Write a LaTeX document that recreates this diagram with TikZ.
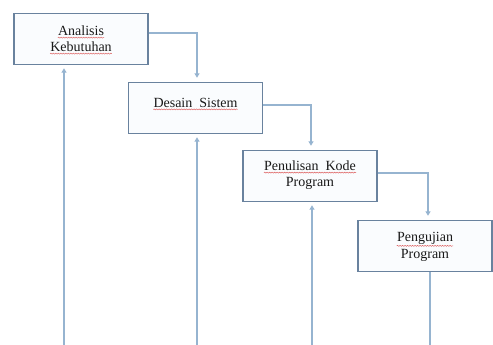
\documentclass[tikz,border=0pt]{standalone}
\usepackage{fontspec}
\setmainfont{Liberation Serif}
\usetikzlibrary{arrows.meta,decorations.pathmorphing}
\definecolor{boxline}{RGB}{105,130,158}
\definecolor{boxfill}{RGB}{250,252,254}
\definecolor{conn}{RGB}{150,180,208}
\definecolor{squig}{RGB}{220,90,90}
\begin{document}
\begin{tikzpicture}[x=1pt,y=-1pt,
  stagebox/.style={draw=boxline,fill=boxfill,line width=1.4pt,minimum width=134pt,minimum height=51pt,inner sep=0pt},
  lbl/.style={inner sep=0pt,text=black!90,font=\fontsize{14}{16}\selectfont},
  link/.style={draw=conn,line width=1.2pt,-{Triangle[width=5pt,length=4.5pt]},shorten >=4pt},
  plain/.style={draw=conn,line width=1.2pt},
  spell/.style={draw=squig,line width=0.45pt,decorate,decoration={snake,amplitude=0.5pt,segment length=2.5pt}}]
\useasboundingbox[fill=white] (0,0) rectangle (493,345);
% boxes
\node[stagebox] (b1) at (81,39) {};
\node[stagebox] (b2) at (195.5,108) {};
\node[stagebox] (b3) at (310,176) {};
\node[stagebox] (b4) at (425,246) {};
% texts
\node[lbl] (t1a) at (81,31) {Analisis};
\node[lbl] (t1b) at (81,47) {Kebutuhan};
\node[lbl] (t2) at (195.5,103) {Desain~~Sistem};
\node[lbl] (t3a) at (310,166) {Penulisan~~Kode};
\node[lbl] (t3b) at (310,183) {Program};
\node[lbl] (t4a) at (425,238) {Pengujian};
\node[lbl] (t4b) at (425,255) {Program};
% spell-check squiggles
\draw[spell] ([yshift=-1.5pt]t1a.south west) -- ([yshift=-1.5pt]t1a.south east);
\draw[spell] ([yshift=-1.5pt]t1b.south west) -- ([yshift=-1.5pt]t1b.south east);
\draw[spell] ([yshift=-1.5pt]t2.south west) -- ([yshift=-1.5pt]t2.south east);
\draw[spell] ([yshift=-1.5pt]t3a.south west) -- ([yshift=-1.5pt]t3a.south east);
\draw[spell] ([yshift=-1.5pt]t4a.south west) -- ([yshift=-1.5pt]t4a.south east);
% coordinates
\coordinate (c1) at (197,33);
\coordinate (c2) at (311,105);
\coordinate (c3) at (428,173);
\coordinate (f1) at (64,345);
\coordinate (f2) at (197,345);
\coordinate (f3) at (312,345);
\coordinate (f4) at (430,345);
% forward connectors
\draw[link] (b1.east |- c1) -| (b2.north -| c1);
\draw[link] (b2.east |- c2) -| (b3.north -| c2);
\draw[link] (b3.east |- c3) -| (b4.north -| c3);
% feedback lines
\draw[link,shorten >=3pt] (f1) -- (b1.south -| f1);
\draw[link,shorten >=3pt] (f2) -- (b2.south -| f2);
\draw[link,shorten >=3pt] (f3) -- (b3.south -| f3);
\draw[plain] (b4.south -| f4) -- (f4);
\end{tikzpicture}
\end{document}
